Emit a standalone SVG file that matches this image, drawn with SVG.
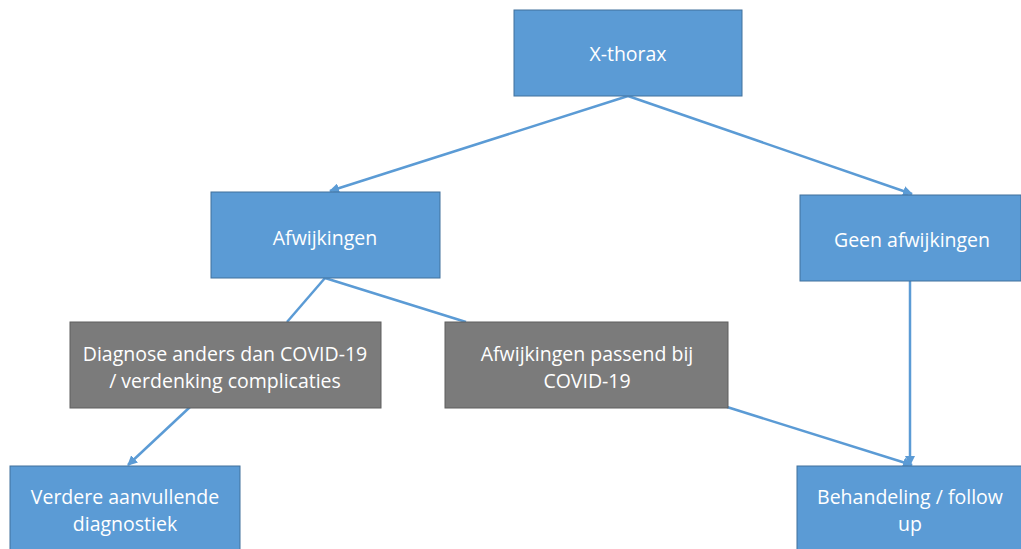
<svg xmlns="http://www.w3.org/2000/svg" width="1021" height="549" viewBox="0 0 1021 549">
<defs>
<style>
.b{fill:#5B9BD5;stroke:#41719C;stroke-width:1}
.g{fill:#7B7B7B;stroke:#5F5F5F;stroke-width:1}
.t{fill:#FFFFFF;font-family:"Open Sans","Liberation Sans",sans-serif;font-size:19.5px;text-anchor:middle;dominant-baseline:central}
.c{stroke:#5B9BD5;stroke-width:2.5;fill:none}
</style>
<marker id="ah" viewBox="0 0 10 10" refX="9" refY="5" markerWidth="4" markerHeight="4" orient="auto" markerUnits="strokeWidth">
<path d="M0,0 L10,5 L0,10 z" fill="#5B9BD5"/>
</marker>
</defs>
<rect width="1021" height="549" fill="#FFFFFF"/>
<g id="connectors">
<line class="c" x1="628" y1="96" x2="330" y2="191" marker-end="url(#ah)"/>
<line class="c" x1="628" y1="96" x2="912" y2="194" marker-end="url(#ah)"/>
<line class="c" x1="325" y1="278" x2="287" y2="322"/>
<line class="c" x1="325" y1="278" x2="466" y2="322"/>
<line class="c" x1="190" y1="407" x2="128" y2="465" marker-end="url(#ah)"/>
<line class="c" x1="727" y1="407" x2="912" y2="465" marker-end="url(#ah)"/>
<line class="c" x1="910" y1="281" x2="910" y2="465" marker-end="url(#ah)"/>
</g>
<g id="n-xthorax"><rect class="b" x="514" y="10" width="228" height="86"/><text class="t" x="628" y="53">X-thorax</text></g>
<g id="n-afwijkingen"><rect class="b" x="211" y="192" width="229" height="86"/><text class="t" x="325" y="237">Afwijkingen</text></g>
<g id="n-geen"><rect class="b" x="800" y="195" width="221" height="86"/><text class="t" x="912" y="239">Geen afwijkingen</text></g>
<g id="n-diagnose"><rect class="g" x="70" y="322" width="311" height="86"/><text class="t" x="225" y="353">Diagnose anders dan COVID-19</text><text class="t" x="225" y="380">/ verdenking complicaties</text></g>
<g id="n-passend"><rect class="g" x="445" y="322" width="283" height="86"/><text class="t" x="587" y="353">Afwijkingen passend bij</text><text class="t" x="587" y="380">COVID-19</text></g>
<g id="n-verdere"><rect class="b" x="10" y="466" width="230" height="90"/><text class="t" x="125" y="496">Verdere aanvullende</text><text class="t" x="125" y="523">diagnostiek</text></g>
<g id="n-behandeling"><rect class="b" x="797" y="466" width="230" height="90"/><text class="t" x="910" y="496">Behandeling / follow</text><text class="t" x="910" y="523">up</text></g>
</svg>
